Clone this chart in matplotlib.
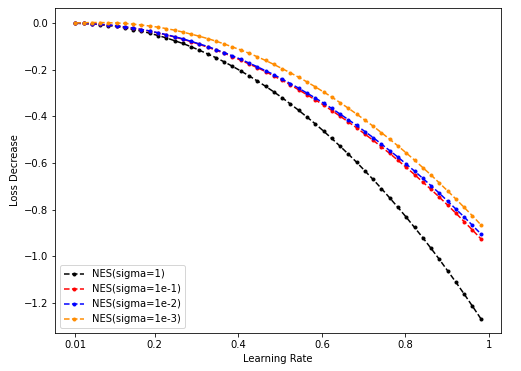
import matplotlib
matplotlib.use("Agg")
import matplotlib.pyplot as plt
import numpy as np

# learning rates sampled on the x axis
learning_rates = np.linspace(0.01, 0.98, 50)

loss_sigma_1 = [
    -0.000, -0.001, -0.003, -0.006, -0.010, -0.014, -0.020, -0.027, -0.034, -0.043,
    -0.053, -0.063, -0.075, -0.087, -0.101, -0.116, -0.132, -0.148, -0.166, -0.185,
    -0.205, -0.226, -0.248, -0.271, -0.295, -0.320, -0.347, -0.374, -0.403, -0.432,
    -0.463, -0.495, -0.528, -0.562, -0.597, -0.634, -0.671, -0.710, -0.750, -0.791,
    -0.833, -0.877, -0.921, -0.967, -1.014, -1.063, -1.112, -1.163, -1.215, -1.268]

loss_sigma_1e1 = [
    -0.000, -0.001, -0.002, -0.005, -0.008, -0.011, -0.016, -0.021, -0.027, -0.034,
    -0.042, -0.050, -0.059, -0.069, -0.079, -0.091, -0.103, -0.116, -0.129, -0.144,
    -0.159, -0.175, -0.191, -0.208, -0.227, -0.245, -0.265, -0.286, -0.307, -0.329,
    -0.351, -0.375, -0.399, -0.424, -0.449, -0.476, -0.503, -0.531, -0.559, -0.589,
    -0.619, -0.650, -0.682, -0.714, -0.747, -0.781, -0.816, -0.852, -0.888, -0.925]

loss_sigma_1e2 = [
    -0.000, -0.001, -0.002, -0.005, -0.007, -0.011, -0.016, -0.021, -0.027, -0.033,
    -0.041, -0.049, -0.058, -0.067, -0.078, -0.089, -0.100, -0.113, -0.126, -0.140,
    -0.155, -0.171, -0.187, -0.204, -0.221, -0.240, -0.259, -0.279, -0.300, -0.321,
    -0.343, -0.366, -0.390, -0.414, -0.439, -0.465, -0.491, -0.519, -0.547, -0.575,
    -0.605, -0.635, -0.666, -0.698, -0.730, -0.764, -0.798, -0.832, -0.868, -0.904]

loss_sigma_1e3 = [
    0.001, 0.002, 0.003, 0.003, 0.002, 0.001, -0.001, -0.004, -0.008, -0.012,
    -0.017, -0.023, -0.030, -0.038, -0.047, -0.056, -0.066, -0.077, -0.089, -0.102,
    -0.115, -0.129, -0.144, -0.160, -0.177, -0.195, -0.213, -0.232, -0.252, -0.273,
    -0.295, -0.317, -0.341, -0.365, -0.390, -0.416, -0.442, -0.470, -0.498, -0.527,
    -0.557, -0.588, -0.620, -0.652, -0.686, -0.720, -0.755, -0.791, -0.827, -0.865]

labels = ["NES(sigma=1)", "NES(sigma=1e-1)", "NES(sigma=1e-2)", "NES(sigma=1e-3)"]
colors = ["black", "red", "blue", "darkorange"]
xticks = [0.01, 0.2, 0.4, 0.6, 0.8, 1]
xtick_labels = ["0.01", "0.2", "0.4", "0.6", "0.8", "1"]

fig = plt.figure(figsize=(521 / 72, 371 / 72), dpi=72)
ax = fig.add_axes([0.1056, 0.1016, 0.856, 0.8776])

for ys, lab, c in zip([loss_sigma_1, loss_sigma_1e1, loss_sigma_1e2, loss_sigma_1e3], labels, colors):
    ax.plot(learning_rates, ys, "--.", c=c, label=lab)

ax.set_xticks(xticks)
ax.set_xticklabels(xtick_labels)
ax.set_xlabel("Learning Rate")
ax.set_ylabel("Loss Decrease")
ax.legend(loc="lower left")

fig.savefig("out.png", dpi=72)
